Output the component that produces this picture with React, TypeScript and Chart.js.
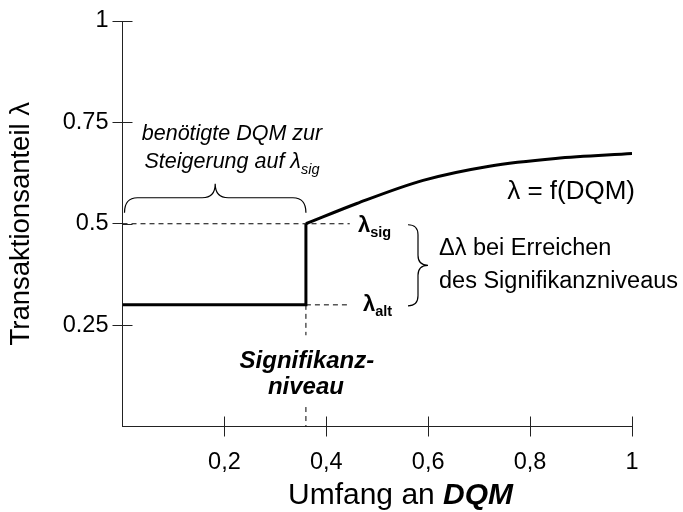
import React, { useEffect, useRef } from "react";
import { Chart, registerables } from "chart.js";
Chart.register(...registerables);

// ---- data ----
const stepX = [0, 0.36, 0.36];
const stepY = [0.3, 0.3, 0.5];
const curveX = [0.36, 0.46, 0.59, 0.72, 0.85, 1.0];
const curveY = [0.5, 0.55, 0.607, 0.642, 0.661, 0.673];
const sigLevel = 0.36;
const lambdaAlt = 0.3;
const lambdaSig = 0.5;
const guideEnd = 0.446;
const sigGapTop = 0.225;
const sigGapBottom = 0.048;
const xTickValues = [0.2, 0.4, 0.6, 0.8, 1];
const xTickLabels = ["0,2", "0,4", "0,6", "0,8", "1"];
const yTickValues = [0.25, 0.5, 0.75, 1];
const yTickLabels = ["0.25", "0.5", "0.75", "1"];

const FONT = "'Liberation Sans', Arial, sans-serif";

type Run = { t: string; f: string; dy?: number };
function drawRuns(ctx: CanvasRenderingContext2D, runs: Run[], x: number, y: number, align: "left" | "center" | "right") {
  let total = 0;
  const widths = runs.map((r) => {
    ctx.font = r.f;
    const w = ctx.measureText(r.t).width;
    total += w;
    return w;
  });
  let cx = align === "left" ? x : align === "center" ? x - total / 2 : x - total;
  ctx.textAlign = "left";
  ctx.textBaseline = "alphabetic";
  runs.forEach((r, i) => {
    ctx.font = r.f;
    ctx.fillText(r.t, cx, y + (r.dy || 0));
    cx += widths[i];
  });
}

function hBrace(ctx: CanvasRenderingContext2D, x1: number, x2: number, yb: number, yt: number, ytip: number, r: number) {
  const xm = (x1 + x2) / 2;
  ctx.beginPath();
  ctx.moveTo(x1, yb);
  ctx.quadraticCurveTo(x1, yt, x1 + r, yt);
  ctx.lineTo(xm - r, yt);
  ctx.quadraticCurveTo(xm, yt, xm, ytip);
  ctx.quadraticCurveTo(xm, yt, xm + r, yt);
  ctx.lineTo(x2 - r, yt);
  ctx.quadraticCurveTo(x2, yt, x2, yb);
  ctx.stroke();
}

function vBrace(ctx: CanvasRenderingContext2D, y1: number, y2: number, xb: number, xt: number, xtip: number, r: number) {
  const ym = (y1 + y2) / 2;
  ctx.beginPath();
  ctx.moveTo(xb, y1);
  ctx.quadraticCurveTo(xt, y1, xt, y1 + r);
  ctx.lineTo(xt, ym - r);
  ctx.quadraticCurveTo(xt, ym, xtip, ym);
  ctx.quadraticCurveTo(xt, ym, xt, ym + r);
  ctx.lineTo(xt, y2 - r);
  ctx.quadraticCurveTo(xt, y2, xb, y2);
  ctx.stroke();
}

const annotations = {
  id: "annotations",
  afterDraw(chart: any) {
    const ctx: CanvasRenderingContext2D = chart.ctx;
    const xs = chart.scales.x;
    const ys = chart.scales.y;
    const area = chart.chartArea;
    ctx.save();
    // inner halves of tick marks
    ctx.strokeStyle = "#222";
    ctx.lineWidth = 1;
    ctx.beginPath();
    xTickValues.forEach((v) => {
      const px = Math.round(xs.getPixelForValue(v)) + 0.5;
      ctx.moveTo(px, area.bottom);
      ctx.lineTo(px, area.bottom - 10);
    });
    yTickValues.forEach((v) => {
      const py = Math.round(ys.getPixelForValue(v)) + 0.5;
      ctx.moveTo(area.left, py);
      ctx.lineTo(area.left + 10, py);
    });
    ctx.stroke();

    ctx.fillStyle = "#000";
    ctx.strokeStyle = "#000";
    const sx = xs.getPixelForValue(sigLevel);
    const ySig = ys.getPixelForValue(lambdaSig);
    const yAlt = ys.getPixelForValue(lambdaAlt);

    // braces
    ctx.lineWidth = 1.2;
    hBrace(ctx, area.left + 2, sx, ySig - 11, ySig - 26, ySig - 40, 13);
    vBrace(ctx, ySig + 1, yAlt + 1, 408, 418, 428, 10);

    // text
    const it = `italic 21.5px ${FONT}`;
    const itSmall = `italic 14.5px ${FONT}`;
    drawRuns(ctx, [{ t: "benötigte DQM zur", f: it }], 232, 140, "center");
    drawRuns(ctx, [{ t: "Steigerung auf λ", f: it }, { t: "sig", f: itSmall, dy: 6 }], 232, 168, "center");

    const bold = `bold 22px ${FONT}`;
    const boldSmall = `bold 14.5px ${FONT}`;
    drawRuns(ctx, [{ t: "λ", f: bold }, { t: "sig", f: boldSmall, dy: 5 }], 358, 232, "left");
    drawRuns(ctx, [{ t: "λ", f: bold }, { t: "alt", f: boldSmall, dy: 5 }], 363, 311, "left");

    const reg = `23.5px ${FONT}`;
    drawRuns(ctx, [{ t: "Δλ bei Erreichen", f: reg }], 439, 255, "left");
    drawRuns(ctx, [{ t: "des Signifikanzniveaus", f: reg }], 439, 288, "left");
    drawRuns(ctx, [{ t: "λ = f(DQM)", f: `26px ${FONT}` }], 635, 199, "right");

    const bi = `bold italic 24px ${FONT}`;
    drawRuns(ctx, [{ t: "Signifikanz-", f: bi }], sx + 1, 368, "center");
    drawRuns(ctx, [{ t: "niveau", f: bi }], sx, 394, "center");

    // x axis title
    drawRuns(ctx, [{ t: "Umfang an ", f: `30px ${FONT}` }, { t: "DQM", f: `bold italic 30px ${FONT}` }], 288, 504, "left");
    ctx.restore();
  },
};

export default function App() {
  const ref = useRef<HTMLCanvasElement | null>(null);
  useEffect(() => {
    if (!ref.current) return;
    const pts = (xa: number[], ya: number[]) => xa.map((x, i) => ({ x, y: ya[i] }));
    const dashed = {
      borderColor: "#000",
      borderWidth: 1,
      borderDash: [5, 4],
      pointRadius: 0,
      fill: false,
    };
    const chart = new Chart(ref.current, {
      type: "line",
      data: {
        datasets: [
          { data: pts(stepX, stepY), borderColor: "#000", borderWidth: 3, pointRadius: 0, tension: 0, borderJoinStyle: "miter" },
          { data: pts(curveX, curveY), borderColor: "#000", borderWidth: 3, pointRadius: 0, cubicInterpolationMode: "monotone" },
          { data: pts([0, guideEnd], [lambdaSig, lambdaSig]), ...dashed },
          { data: pts([sigLevel, guideEnd], [lambdaAlt, lambdaAlt]), ...dashed },
          { data: pts([sigLevel, sigLevel], [lambdaAlt, sigGapTop]), ...dashed },
          { data: pts([sigLevel, sigLevel], [sigGapBottom, 0]), ...dashed },
        ] as any,
      },
      options: {
        animation: false,
        responsive: false,
        devicePixelRatio: 1,
        layout: { padding: { top: 21, right: 51, left: 0, bottom: 0 } },
        plugins: { legend: { display: false }, tooltip: { enabled: false } },
        scales: {
          x: {
            type: "linear",
            min: 0,
            max: 1,
            afterFit: (s: any) => { s.height = 85.5; },
            afterBuildTicks: (s: any) => { s.ticks = [0, ...xTickValues].map((v) => ({ value: v })); },
            ticks: {
              color: "#000",
              font: { family: FONT, size: 23.5 },
              padding: 12,
              maxRotation: 0,
              autoSkip: false,
              callback: (v: any) => {
                const i = xTickValues.indexOf(Number(v));
                return i >= 0 ? xTickLabels[i] : "";
              },
            },
            grid: {
              drawOnChartArea: false,
              drawTicks: true,
              tickLength: 10,
              color: (c: any) => (c.tick && c.tick.value === 0 ? "rgba(0,0,0,0)" : "#222"),
            },
            border: { display: true, color: "#222", width: 1 },
          },
          y: {
            type: "linear",
            min: 0,
            max: 1,
            afterFit: (s: any) => { s.width = 122.5; },
            afterBuildTicks: (s: any) => { s.ticks = [0, ...yTickValues].map((v) => ({ value: v })); },
            ticks: {
              color: "#000",
              font: { family: FONT, size: 23.5 },
              padding: 4,
              autoSkip: false,
              callback: (v: any) => {
                const i = yTickValues.indexOf(Number(v));
                return i >= 0 ? yTickLabels[i] : "";
              },
            },
            grid: {
              drawOnChartArea: false,
              drawTicks: true,
              tickLength: 10,
              color: (c: any) => (c.tick && c.tick.value === 0 ? "rgba(0,0,0,0)" : "#222"),
            },
            border: { display: true, color: "#222", width: 1 },
            title: {
              display: true,
              text: "Transaktionsanteil λ",
              color: "#000",
              font: { family: FONT, size: 27.5 },
              padding: { top: 5, bottom: 0 },
            },
          },
        },
      },
      plugins: [annotations],
    } as any);
    return () => chart.destroy();
  }, []);
  return (
    <div style={{ position: "absolute", left: 0, top: 0, width: 683, height: 512, background: "#fff" }}>
      <canvas ref={ref} width={683} height={512} style={{ display: "block" }} />
    </div>
  );
}
